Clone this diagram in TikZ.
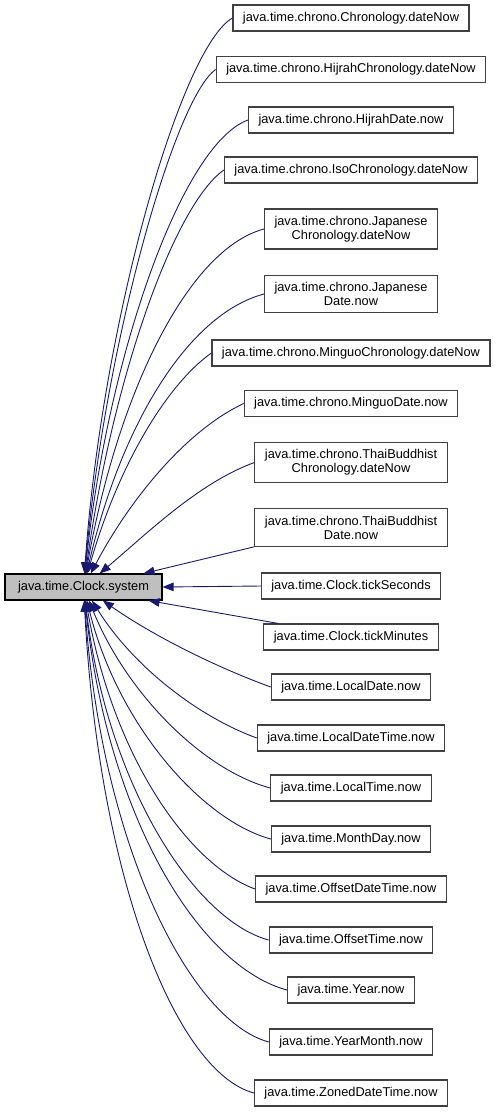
\documentclass[tikz,border=0pt]{standalone}
\usepackage{fontspec}
\setmainfont{Liberation Sans}
\usetikzlibrary{arrows.meta,positioning,calc}
\definecolor{callEdge}{RGB}{25,25,112}
\definecolor{callBorder}{RGB}{64,64,64}
\definecolor{rootFill}{RGB}{191,191,191}

\begin{document}
\begin{tikzpicture}[
  x=1pt, y=1pt,
  callnode/.style={rectangle, draw=callBorder, fill=white, line width=1.1pt,
                   minimum height=26pt, inner xsep=10pt, inner ysep=7pt,
                   align=center, font=\fontsize{12.8}{14}\selectfont},
  rootnode/.style={callnode, draw=black, fill=rootFill, minimum width=157pt},
  callarr/.style={-{Triangle[length=11pt,width=8.5pt]}, callEdge, line width=0.9pt},
]
\useasboundingbox (0,0) rectangle (497,-1112);

%%──────────────────────────────────────────────────────────────────
%% Called function
%%──────────────────────────────────────────────────────────────────
\node[rootnode] (clock) at (83.5,-587) {java.time.Clock.system};

%%──────────────────────────────────────────────────────────────────
%% Callers, one column on the right
%%──────────────────────────────────────────────────────────────────
\foreach \nm/\yy/\txt in {
    chrono/18/{java.time.chrono.Chronology.dateNow},
    hijrahChrono/69.5/{java.time.chrono.HijrahChronology.dateNow},
    hijrahDate/120/{java.time.chrono.HijrahDate.now},
    isoChrono/170/{java.time.chrono.IsoChronology.dateNow},
    japChrono/229/{java.time.chrono.Japanese\\Chronology.dateNow},
    japDate/294/{java.time.chrono.Japanese\\Date.now},
    minguoChrono/353/{java.time.chrono.MinguoChronology.dateNow},
    minguoDate/403.5/{java.time.chrono.MinguoDate.now},
    thaiChrono/462.5/{java.time.chrono.ThaiBuddhist\\Chronology.dateNow},
    thaiDate/527.5/{java.time.chrono.ThaiBuddhist\\Date.now},
    tickSec/586/{java.time.Clock.tickSeconds},
    tickMin/637/{java.time.Clock.tickMinutes},
    localDate/687/{java.time.LocalDate.now},
    localDateTime/738/{java.time.LocalDateTime.now},
    localTime/788/{java.time.LocalTime.now},
    monthDay/839/{java.time.MonthDay.now},
    offsetDateTime/889/{java.time.OffsetDateTime.now},
    offsetTime/940/{java.time.OffsetTime.now},
    year/990/{java.time.Year.now},
    yearMonth/1042/{java.time.YearMonth.now},
    zonedDateTime/1093/{java.time.ZonedDateTime.now}}{
  \node[callnode] (\nm) at (351,-\yy) {\txt};
}

%%──────────────────────────────────────────────────────────────────
%% Call edges
%%──────────────────────────────────────────────────────────────────
% from above
\foreach \src/\o/\i/\dA/\dB in {
    chrono/210/86/60/250, hijrahChrono/215/85/50/230,
    hijrahDate/200/84/70/220, isoChrono/215/82/60/200,
    japChrono/195/80/80/180, japDate/195/77/80/150,
    minguoChrono/215/74/50/120, minguoDate/205/62/60/90,
    thaiChrono/200/40/60/60}{
  \draw[callarr] (\src.west) to[out=\o, in=\i, out distance=\dA pt,
                                in distance=\dB pt] (clock);
}

% nearly level
\draw[callarr] (thaiDate.south west) -- ([xshift=-19pt]clock.north east);
\draw[callarr] (tickSec.west) -- (clock.east);
\draw[callarr] ([xshift=15pt]tickMin.north west) -- ([xshift=-14pt]clock.south east);

% from below
\foreach \src/\o/\i/\dA/\dB in {
    localDate/160/-35/60/60, localDateTime/160/-58/60/80,
    localTime/165/-68/70/100, monthDay/165/-76/70/130,
    offsetDateTime/160/-80/70/160, offsetTime/165/-83/75/190,
    year/165/-84/90/220, yearMonth/165/-86/80/250,
    zonedDateTime/165/-87/80/280}{
  \draw[callarr] (\src.west) to[out=\o, in=\i, out distance=\dA pt,
                                in distance=\dB pt] (clock);
}

\end{tikzpicture}
\end{document}
